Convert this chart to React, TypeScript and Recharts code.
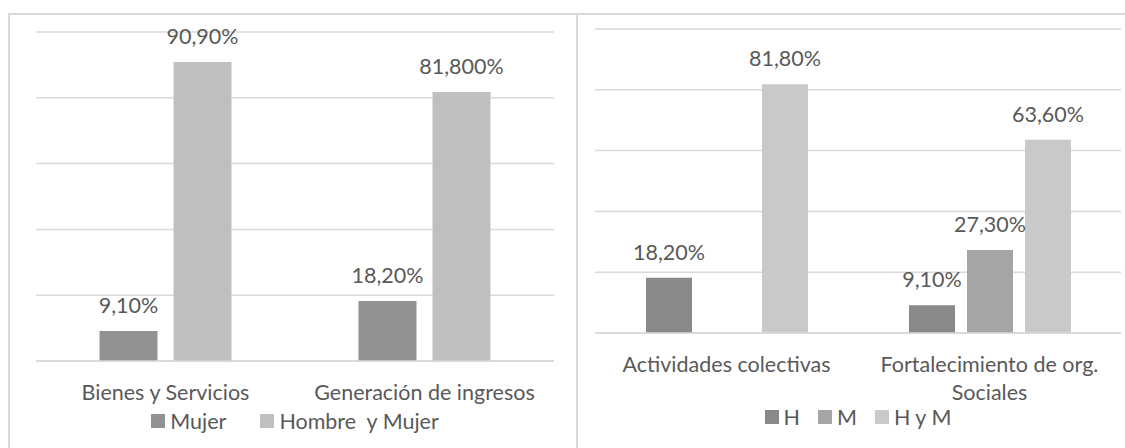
import React from "react";
import { BarChart, Bar, XAxis, YAxis, CartesianGrid, Legend, LabelList } from "recharts";

const leftCategories = ["Bienes y Servicios", "Generación de ingresos"];
const leftMujer = [9.1, 18.2];
const leftHombreMujer = [90.9, 81.8];
const leftMujerLabels = ["9,10%", "18,20%"];
const leftHombreMujerLabels = ["90,90%", "81,800%"];

const rightCategories = ["Actividades colectivas", "Fortalecimiento de org. Sociales"];
const rightH = [18.2, 9.1];
const rightM: (number | null)[] = [null, 27.3];
const rightHM = [81.8, 63.6];
const rightHLabels = ["18,20%", "9,10%"];
const rightMLabels = ["", "27,30%"];
const rightHMLabels = ["81,80%", "63,60%"];

const yTicks = [0, 20, 40, 60, 80, 100];

const FONT = "Lato, 'Open Sans', sans-serif";
const FONT_SIZE = 21.5;
const TEXT = "#595959";
const GRID = "#d9d9d9";

const leftData = leftCategories.map((name, i) => ({
  name,
  mujer: leftMujer[i],
  hm: leftHombreMujer[i],
  mujerLabel: leftMujerLabels[i],
  hmLabel: leftHombreMujerLabels[i],
}));

const rightData = rightCategories.map((name, i) => ({
  name,
  h: rightH[i],
  m: rightM[i],
  hm: rightHM[i],
  hLabel: rightHLabels[i],
  mLabel: rightMLabels[i],
  hmLabel: rightHMLabels[i],
}));

const labelStyle = { fill: TEXT, fontSize: FONT_SIZE, fontFamily: FONT };

// greedy word wrap using canvas text metrics
let ctx: CanvasRenderingContext2D | null = null;
function wrapText(text: string, maxWidth: number): string[] {
  if (!ctx) {
    ctx = document.createElement("canvas").getContext("2d");
  }
  if (!ctx) return [text];
  ctx.font = `${FONT_SIZE}px ${FONT}`;
  const words = text.split(" ");
  const lines: string[] = [];
  let cur = "";
  words.forEach((w) => {
    const next = cur ? cur + " " + w : w;
    if (cur && ctx!.measureText(next).width > maxWidth) {
      lines.push(cur);
      cur = w;
    } else {
      cur = next;
    }
  });
  if (cur) lines.push(cur);
  return lines;
}

function CategoryTick(props: any) {
  const { x, y, payload } = props;
  const lines = wrapText(String(payload.value), 245);
  return (
    <text x={x} y={y + 39} textAnchor="middle" fill={TEXT} fontSize={FONT_SIZE} fontFamily={FONT}>
      {lines.map((l, i) => (
        <tspan key={i} x={x} dy={i === 0 ? 0 : 28}>
          {l}
        </tspan>
      ))}
    </text>
  );
}

function makeLegend(items: { label: string; color: string }[], gap: number) {
  return () => (
    <div
      style={{
        display: "flex",
        justifyContent: "center",
        alignItems: "center",
        fontFamily: FONT,
        fontSize: FONT_SIZE,
        color: TEXT,
        lineHeight: "28px",
        whiteSpace: "pre",
      }}
    >
      {items.map((it, i) => (
        <div key={i} style={{ display: "flex", alignItems: "center", marginRight: i < items.length - 1 ? gap : 0 }}>
          <span style={{ display: "inline-block", width: 14, height: 14, background: it.color, marginRight: 5 }} />
          <span>{it.label}</span>
        </div>
      ))}
    </div>
  );
}

const leftLegend = makeLegend(
  [
    { label: "Mujer", color: "#929292" },
    { label: "Hombre  y Mujer", color: "#bfbfbf" },
  ],
  34
);

const rightLegend = makeLegend(
  [
    { label: "H", color: "#898989" },
    { label: "M", color: "#a5a5a5" },
    { label: "H y M", color: "#c9c9c9" },
  ],
  18
);

export default function App() {
  return (
    <div style={{ position: "absolute", left: 0, top: 0, width: 1125, height: 448, background: "#fff", fontFamily: FONT }}>
      {/* frame */}
      <div style={{ position: "absolute", left: 8, top: 13, width: 1117, height: 2, background: GRID }} />
      <div style={{ position: "absolute", left: 8, top: 13, width: 2, height: 435, background: GRID }} />
      <div style={{ position: "absolute", left: 576, top: 13, width: 2, height: 435, background: GRID }} />

      <div style={{ position: "absolute", left: 0, top: 0 }}>
        <BarChart
          width={576}
          height={448}
          data={leftData}
          margin={{ top: 32, right: 22, left: 36, bottom: 27 }}
          barCategoryGap={63.5}
          barGap={16}
        >
          <CartesianGrid vertical={false} stroke={GRID} strokeWidth={1.5} />
          <XAxis
            dataKey="name"
            height={60}
            axisLine={{ stroke: GRID, strokeWidth: 1.5 }}
            tickLine={false}
            tickSize={0}
            tickMargin={0}
            tick={<CategoryTick />}
            interval={0}
          />
          <YAxis hide domain={[0, 100]} ticks={yTicks} />
          <Legend
            layout="horizontal"
            verticalAlign="middle"
            align="center"
            wrapperStyle={{ top: 407 }}
            content={leftLegend}
          />
          <Bar dataKey="mujer" name="Mujer" fill="#929292" isAnimationActive={false}>
            <LabelList dataKey="mujerLabel" position="top" offset={18} style={labelStyle} />
          </Bar>
          <Bar dataKey="hm" name="Hombre  y Mujer" fill="#bfbfbf" isAnimationActive={false}>
            <LabelList dataKey="hmLabel" position="top" offset={18} style={labelStyle} />
          </Bar>
        </BarChart>
      </div>

      <div style={{ position: "absolute", left: 576, top: 0 }}>
        <BarChart
          width={549}
          height={448}
          data={rightData}
          margin={{ top: 29, right: 4, left: 19, bottom: 55 }}
          barCategoryGap={51}
          barGap={12}
        >
          <CartesianGrid vertical={false} stroke={GRID} strokeWidth={1.5} />
          <XAxis
            dataKey="name"
            height={60}
            axisLine={{ stroke: GRID, strokeWidth: 1.5 }}
            tickLine={false}
            tickSize={0}
            tickMargin={0}
            tick={<CategoryTick />}
            interval={0}
          />
          <YAxis hide domain={[0, 100]} ticks={yTicks} />
          <Legend
            layout="horizontal"
            verticalAlign="middle"
            align="center"
            wrapperStyle={{ top: 403 }}
            content={rightLegend}
          />
          <Bar dataKey="h" name="H" fill="#898989" isAnimationActive={false}>
            <LabelList dataKey="hLabel" position="top" offset={18} style={labelStyle} />
          </Bar>
          <Bar dataKey="m" name="M" fill="#a5a5a5" isAnimationActive={false}>
            <LabelList dataKey="mLabel" position="top" offset={18} style={labelStyle} />
          </Bar>
          <Bar dataKey="hm" name="H y M" fill="#c9c9c9" isAnimationActive={false}>
            <LabelList dataKey="hmLabel" position="top" offset={18} style={labelStyle} />
          </Bar>
        </BarChart>
      </div>
    </div>
  );
}
